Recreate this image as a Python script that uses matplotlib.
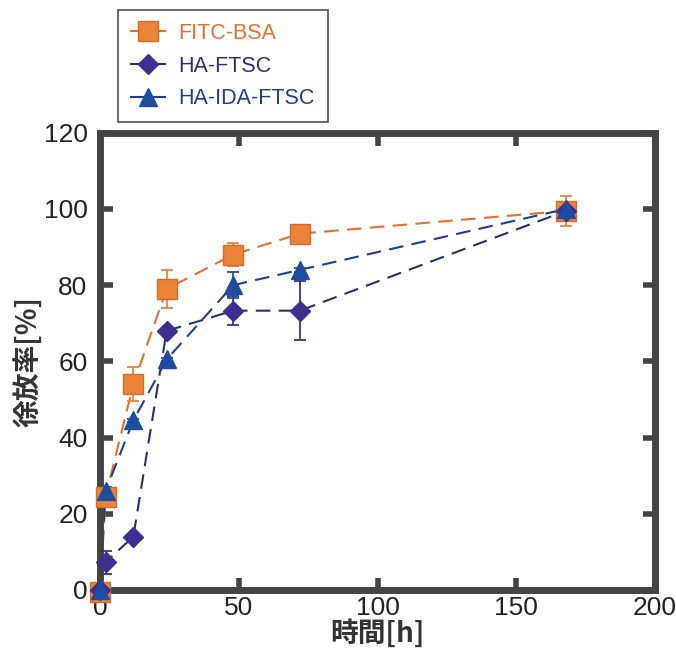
import matplotlib
matplotlib.use("Agg")
import matplotlib.pyplot as plt
from matplotlib import font_manager as fm

names = {f.name for f in fm.fontManager.ttflist}
num_font = ['Liberation Sans Narrow'] if 'Liberation Sans Narrow' in names else ['Liberation Sans']
cjk = ['Noto Sans CJK JP', 'DejaVu Sans']

time_h = [0, 2, 12, 24, 48, 72, 168]

fitc_bsa = [-0.5, 24.5, 54, 79, 88, 93.5, 99.5]
fitc_bsa_err = [0, 1.5, 4.5, 5, 3, 1, 4]

ha_ftsc = [0, 7.3, 14, 68, 73.3, 73.3, 99.5]
ha_ftsc_err = [0, 3, 0.5, 0.5, 3.8, 7.8, 2]

ha_ida_ftsc = [0, 26, 44.5, 60.5, 80, 84, 100]
ha_ida_ftsc_err = [0, 1, 0.5, 0.5, 3.5, 0.5, 1]

series_names = ['FITC-BSA', 'HA-FTSC', 'HA-IDA-FTSC']
x_ticks = [0, 50, 100, 150, 200]
y_ticks = [0, 20, 40, 60, 80, 100, 120]

fig = plt.figure(figsize=(6.76, 6.57), dpi=100)
ax = fig.add_axes([0.148, 0.102, 0.821, 0.696])

orange = '#EA8439'
orange_line = '#E2702E'
purple = '#3B2F8F'
purple_line = '#25306E'
blue = '#1E4DA0'
blue_line = '#1D3F8E'

dash = (0, (7, 4))
specs = [
    (fitc_bsa, fitc_bsa_err, 's', 14, orange, '#D9682A', orange_line, series_names[0]),
    (ha_ftsc, ha_ftsc_err, 'D', 10, purple, purple, purple_line, series_names[1]),
    (ha_ida_ftsc, ha_ida_ftsc_err, '^', 13, blue, blue, blue_line, series_names[2]),
]
handles = []
for vals, err, mk, ms, fc, ec, lc, name in specs:
    ax.errorbar(time_h, vals, yerr=err, fmt='none', ecolor=fc, elinewidth=1.3,
                capsize=4, capthick=1.3, clip_on=False, zorder=3)
    ax.plot(time_h, vals, linestyle=dash, color=lc, linewidth=1.5, zorder=2, clip_on=False)
    ax.plot(time_h, vals, linestyle='none', marker=mk, markersize=ms,
            markerfacecolor=fc, markeredgecolor=ec, zorder=4, clip_on=False)
    h, = ax.plot([], [], linestyle='-', color=lc, linewidth=1.5, marker=mk,
                 markersize=ms, markerfacecolor=fc, markeredgecolor=ec, label=name)
    handles.append(h)

ax.set_xlim(0, 200)
ax.set_ylim(0, 120)
ax.set_xticks(x_ticks)
ax.set_yticks(y_ticks)
ax.set_xticklabels([str(v) for v in x_ticks], family=num_font, fontsize=19)
ax.set_yticklabels([str(v) for v in y_ticks], family=num_font, fontsize=19)
ax.tick_params(direction='in', length=9, width=4, color='#444444', top=True, right=True,
               labelcolor='#222222')
ax.tick_params(axis='y', pad=9)
ax.tick_params(axis='x', pad=4)
for s in ax.spines.values():
    s.set_linewidth(5)
    s.set_color('#444444')

ax.set_xlabel('時間[h]', family=cjk, fontsize=20, fontweight='bold', color='#333333', labelpad=0)
ax.set_ylabel('徐放率[%]', family=cjk, fontsize=20, fontweight='bold', color='#333333', labelpad=1)

leg = fig.legend(handles=handles, loc='upper left', bbox_to_anchor=(0.1746, 0.985),
                 borderaxespad=0,
                 frameon=True, fancybox=False, edgecolor='#222222',
                 handlelength=1.6, handletextpad=0.6, labelspacing=0.55,
                 borderpad=0.6, prop={'family': ['Liberation Sans', 'DejaVu Sans'], 'size': 15.5})
leg.get_frame().set_linewidth(1.2)
for t, c in zip(leg.get_texts(), [orange_line, '#2B2F7A', '#1D3F8E']):
    t.set_color(c)

fig.savefig('out.png', dpi=100)
